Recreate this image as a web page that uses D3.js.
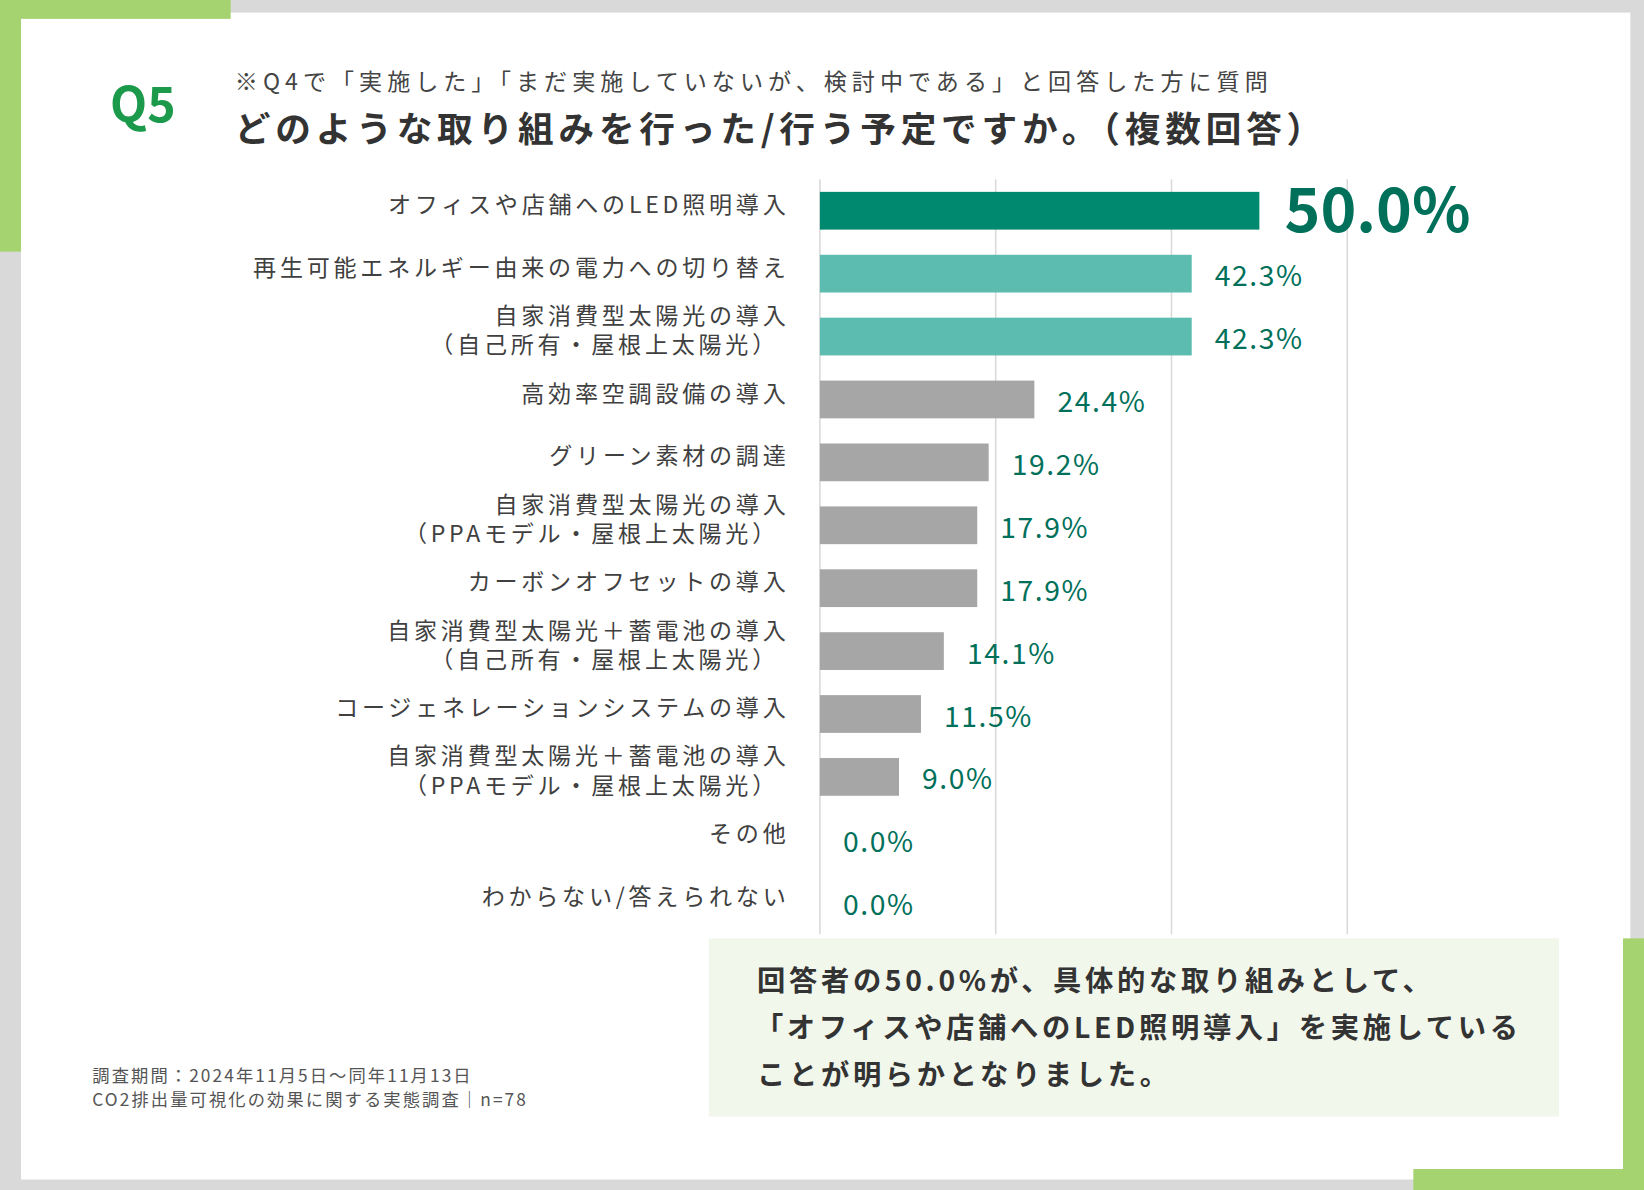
<!DOCTYPE html>
<html><head><meta charset="utf-8">
<script src="https://cdn.jsdelivr.net/npm/d3@7"></script>
<style>body{margin:0;background:#fff}svg{display:block;font-family:"Noto Sans CJK JP","Noto Sans",sans-serif}</style>
</head><body><svg id="c"></svg>
<script>
// データ
const labels = [
  ["オフィスや店舗へのLED照明導入"],
  ["再生可能エネルギー由来の電力への切り替え"],
  ["自家消費型太陽光の導入", "（自己所有・屋根上太陽光）"],
  ["高効率空調設備の導入"],
  ["グリーン素材の調達"],
  ["自家消費型太陽光の導入", "（PPAモデル・屋根上太陽光）"],
  ["カーボンオフセットの導入"],
  ["自家消費型太陽光＋蓄電池の導入", "（自己所有・屋根上太陽光）"],
  ["コージェネレーションシステムの導入"],
  ["自家消費型太陽光＋蓄電池の導入", "（PPAモデル・屋根上太陽光）"],
  ["その他"],
  ["わからない/答えられない"]
];
const values = [50.0, 42.3, 42.3, 24.4, 19.2, 17.9, 17.9, 14.1, 11.5, 9.0, 0.0, 0.0];
const gridTicks = [20, 40, 60];

const W = 1568, H = 1135;
const svg = d3.select("#c").attr("width", 1644).attr("height", 1190).attr("viewBox", `0 0 ${W} ${H}`);

// 枠
svg.append("rect").attr("width", W).attr("height", H).attr("fill", "#d9d9d9");
svg.append("rect").attr("x", 20).attr("y", 12).attr("width", 1535).attr("height", 1113).attr("fill", "#fff");
const accent = "#a5d36f";
svg.append("rect").attr("x", 0).attr("y", 0).attr("width", 220).attr("height", 18).attr("fill", accent);
svg.append("rect").attr("x", 0).attr("y", 0).attr("width", 20).attr("height", 240).attr("fill", accent);
svg.append("rect").attr("x", 1348).attr("y", 1115).attr("width", 220).attr("height", 20).attr("fill", accent);
svg.append("rect").attr("x", 1548).attr("y", 895).attr("width", 20).attr("height", 240).attr("fill", accent);

// タイトル
svg.append("text").attr("x", 105).attr("y", 116).attr("font-size", 46).attr("font-weight", 700)
  .attr("fill", "#1a9a4a").text("Q5");
svg.append("text").attr("x", 224).attr("y", 86).attr("font-size", 22).attr("letter-spacing", 4.8).attr("fill", "#444")
  .text("※Q4で「実施した」「まだ実施していないが、検討中である」と回答した方に質問");
svg.append("text").attr("x", 224).attr("y", 135).attr("font-size", 34).attr("font-weight", 700)
  .attr("letter-spacing", 4.6).attr("fill", "#333")
  .text("どのような取り組みを行った/行う予定ですか。（複数回答）");

// スケール
const x = d3.scaleLinear().domain([0, 60]).range([782, 1285]);
const y = d3.scaleBand().domain(d3.range(values.length)).range([171, 891]).paddingInner(0.4).paddingOuter(0.2);

svg.append("g").selectAll("line").data([0, ...gridTicks]).join("line")
  .attr("x1", d => x(d)).attr("x2", d => x(d)).attr("y1", 171).attr("y2", 891)
  .attr("stroke", "#d9d9d9").attr("stroke-width", 1.5);

const color = i => i === 0 ? "#00896f" : (i < 3 ? "#5dbcb0" : "#a6a6a6");
svg.append("g").selectAll("rect").data(values).join("rect")
  .attr("x", x(0)).attr("y", (d, i) => y(i))
  .attr("width", d => x(d) - x(0)).attr("height", y.bandwidth())
  .attr("fill", (d, i) => color(i));

// 値ラベル
svg.append("g").selectAll("text").data(values).join("text")
  .attr("x", (d, i) => x(d) + (i === 0 ? 24 : 22))
  .attr("y", (d, i) => y(i) + y.bandwidth() / 2 + (i === 0 ? 20 : 12))
  .attr("font-size", (d, i) => i === 0 ? 58 : 27)
  .attr("letter-spacing", (d, i) => i === 0 ? 0 : 1.5)
  .attr("font-weight", (d, i) => i === 0 ? 700 : 400)
  .attr("fill", "#00705a")
  .text(d => d.toFixed(1) + "%");

// 項目ラベル
const lg = svg.append("g").selectAll("text").data(labels).join("text")
  .attr("text-anchor", "end").attr("font-size", 22).attr("letter-spacing", 3.6).attr("fill", "#404040");
lg.each(function (lines, i) {
  const t = d3.select(this);
  const cy = y(i) + y.bandwidth() / 2;
  lines.forEach((s, j) => {
    t.append("tspan").attr("x", lines.length > 1 && j === 1 ? 743 : 753)
      .attr("y", lines.length === 1 ? cy + 2 : cy + 2 + (j - 0.5) * 28)
      .text(s);
  });
});

// まとめ
svg.append("rect").attr("x", 676).attr("y", 895).attr("width", 811).attr("height", 170).attr("fill", "#f2f7ec");
const sum = ["回答者の50.0%が、具体的な取り組みとして、", "「オフィスや店舗へのLED照明導入」を実施している", "ことが明らかとなりました。"];
svg.append("g").selectAll("text").data(sum).join("text")
  .attr("x", (d, i) => i === 1 ? 720 : 722).attr("y", (d, i) => 945 + i * 45)
  .attr("font-size", 27).attr("font-weight", 700).attr("letter-spacing", 3.5).attr("fill", "#333").text(d => d);

// 注記
const notes = ["調査期間：2024年11月5日〜同年11月13日", "CO2排出量可視化の効果に関する実態調査｜n=78"];
svg.append("g").selectAll("text").data(notes).join("text")
  .attr("x", 88).attr("y", (d, i) => 1032 + i * 23)
  .attr("font-size", 16.5).attr("letter-spacing", 2).attr("fill", "#555").text(d => d);
</script></body></html>
